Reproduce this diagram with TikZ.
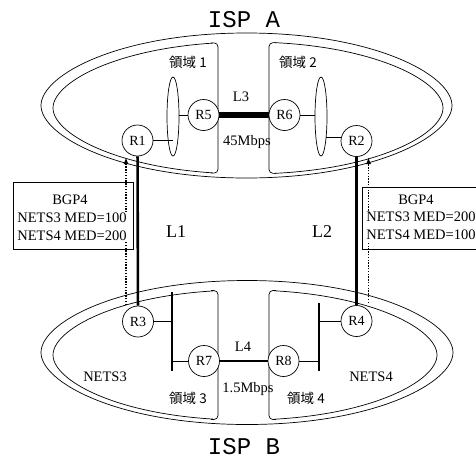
\documentclass[tikz,border=0pt]{standalone}
\usepackage{fontspec}
\setmainfont{Liberation Serif}
\setmonofont{Liberation Mono}
\newfontfamily\cjkfont{Noto Sans CJK JP}
\usetikzlibrary{arrows.meta,shapes.geometric,calc}

% pointed oval: centre x, centre y, x radius, y radius
\newcommand{\ispoval}[4]{({#1-#3},#2)
  .. controls ({#1-#3},{#2-0.42*#4}) and ({#1-0.62*#3},{#2-#4}) .. (#1,{#2-#4})
  .. controls ({#1+0.62*#3},{#2-#4}) and ({#1+#3},{#2-0.42*#4}) .. ({#1+#3},#2)
  .. controls ({#1+#3},{#2+0.42*#4}) and ({#1+0.62*#3},{#2+#4}) .. (#1,{#2+#4})
  .. controls ({#1-0.62*#3},{#2+#4}) and ({#1-#3},{#2+0.42*#4}) .. ({#1-#3},#2) -- cycle}

\begin{document}
\begin{tikzpicture}[
    x=1pt, y=-1pt,
    >=Latex,
    line width=0.7pt,
    router/.style={
        draw,
        circle,
        fill=white,
        minimum size=31pt,
        inner sep=0pt,
        font=\fontsize{14}{14}\selectfont
    },
    lan/.style={draw, ellipse, minimum width=12pt, minimum height=79pt, inner sep=0pt},
    bus/.style={line width=1.6pt},
    trunk/.style={line width=2.6pt},
    backbone/.style={line width=5.5pt},
    slowlink/.style={line width=1.6pt},
    med/.style={-{Latex[length=7pt,width=5pt]}, line width=1.5pt, dash pattern=on 1.4pt off 1.4pt},
    edge/.style={rounded corners=4pt},
    isptitle/.style={font=\ttfamily\fontsize{24}{24}\selectfont, inner sep=0pt},
    linklabel/.style={font=\fontsize{14.5}{17}\selectfont, inner sep=0pt},
    trunklabel/.style={font=\fontsize{18}{20}\selectfont, inner sep=0pt},
    domlabel/.style={font=\cjkfont\fontsize{13.5}{15}\selectfont, inner sep=0pt},
    bgpbox/.style={draw, line width=0.7pt, inner sep=0pt},
    bgptext/.style={font=\fontsize{14.5}{18}\selectfont, align=center, inner sep=1pt},
    medtext/.style={bgptext, fill=white}
]

\useasboundingbox (0,0) rectangle (476,461);

% ISP A
\node[isptitle] (ispA) at (244,20) {ISP A};
\draw \ispoval{246.5}{105.5}{205.5}{72.5};
\begin{scope}
    \clip (0,0) rectangle (213,230) (274,0) rectangle (476,230);
    \draw \ispoval{248}{108}{195}{66};
\end{scope}
\draw[edge] (211,42.9) -- (218,42.8) -- (218,173.2) -- (211,173.1);
\draw[edge] (276,42.6) -- (269,42.7) -- (269,173.3) -- (276,173.4);

\node[domlabel] (dom1) at (188,62) {領域 1};
\node[domlabel] (dom2) at (298,62) {領域 2};

\node[lan] (lan1) at (173,116.5) {};
\node[lan] (lan2) at (321,116.5) {};

\node[router] (R1) at (137.5,140.5) {R1};
\node[router] (R5) at (203.5,115) {R5};
\node[router] (R6) at (284.5,115) {R6};
\node[router] (R2) at (356.5,141) {R2};

\draw (R1) -- (R1 -| lan1.center);
\draw (R5) -- (R5 -| lan1.east);
\draw (R6) -- (R6 -| lan2.west);
\draw (lan2.-75) -- (lan2.-75 -| R2.west);

\draw[backbone] (R5) -- (R6);
\node[linklabel] (l3) at (241,97) {L3};
\node[linklabel] (bw3) at (247,142) {45Mbps};

% ISP B
\node[isptitle] (ispB) at (244,447) {ISP B};
\draw \ispoval{247}{352.5}{206}{72};
\begin{scope}
    \clip (0,230) rectangle (213,461) (274,230) rectangle (476,461);
    \draw \ispoval{245}{355}{192}{65};
\end{scope}
\draw[edge] (211,290.6) -- (218,290.5) -- (218,419.5) -- (211,419.4);
\draw[edge] (276,290.5) -- (269,290.4) -- (269,419.6) -- (276,419.5);

\node[domlabel] (dom3) at (188,398) {領域 3};
\node[domlabel] (dom4) at (306,398) {領域 4};
\node[linklabel] (nets3) at (105,377) {NETS3};
\node[linklabel] (nets4) at (371,377) {NETS4};

\coordinate (bus3top) at (172,292);
\coordinate (bus3bot) at (172,371);
\coordinate (bus4top) at (319,303);
\coordinate (bus4bot) at (319,371);
\draw[bus] (bus3top) -- (bus3bot);
\draw[bus] (bus4top) -- (bus4bot);

\node[router] (R3) at (138,321.5) {R3};
\node[router] (R7) at (204,361) {R7};
\node[router] (R8) at (283.5,361) {R8};
\node[router] (R4) at (356.5,321) {R4};

\draw (R3) -- (R3 -| bus3top);
\draw (R7) -- (R7 -| bus3top);
\draw (R8) -- (R8 -| bus4top);
\draw (R4) -- (R4 -| bus4top);

\draw[slowlink] (R7) -- (R8);
\node[linklabel] (l4) at (243,347) {L4};
\node[linklabel] (bw4) at (248,389) {1.5Mbps};

% inter-ISP links
\draw[trunk] (R1) -- (R3);
\draw[trunk] (R2) -- (R4);
\node[trunklabel] (l1) at (176,232) {L1};
\node[trunklabel] (l2) at (322,232) {L2};

% BGP4 announcements
\node[bgpbox, minimum width=120pt, minimum height=67pt] (boxA) at (73,215.5) {};
\node[bgpbox, minimum width=118pt, minimum height=62pt] (boxB) at (421,218) {};

\coordinate (tipA) at (126,157);
\coordinate (tailA) at (126,305);
\coordinate (tipB) at (368.5,157);
\coordinate (tailB) at (368.5,303);
\draw[med] (tailA) -- (tipA);
\draw[med] (tailB) -- (tipB);

\node[bgptext] (bgpA) at (70,200) {BGP4};
\node[medtext] (medA) at (72,227) {NETS3 MED=100\\NETS4 MED=200};
\node[bgptext] (bgpB) at (416,200) {BGP4};
\node[medtext] (medB) at (421,226) {NETS3 MED=200\\NETS4 MED=100};

\end{tikzpicture}
\end{document}
